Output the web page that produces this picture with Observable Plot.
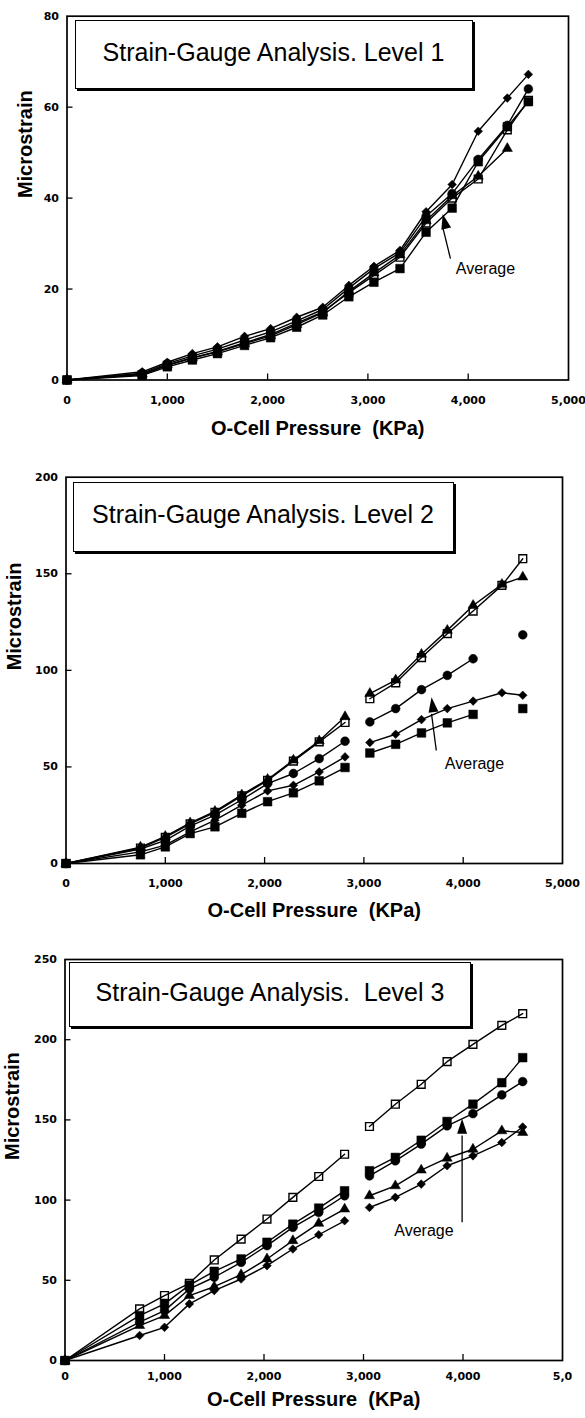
<!DOCTYPE html>
<html><head><meta charset="utf-8">
<script src="https://cdn.jsdelivr.net/npm/d3@7"></script>
<script src="https://cdn.jsdelivr.net/npm/@observablehq/plot@0.6"></script>
<style>
body{margin:0;background:#fff;width:585px;height:1418px;overflow:hidden;font-family:"Liberation Sans",Arial,sans-serif}
.panel{position:relative;width:585px}
.panel svg{display:block}
.tbox{position:absolute;border:1.5px solid #000;box-shadow:2px 2px 0 #000;background:#fff;display:flex;align-items:center;justify-content:center;font-size:25px;white-space:pre;box-sizing:border-box;padding-bottom:4px;color:#000}
</style></head><body><div id="c"></div>
<script>
// ---------- data ----------
const pressureKPa = [0, 750, 1000, 1250, 1500, 1770, 2030, 2290, 2550, 2810, 3060, 3320, 3580, 3840, 4100, 4390, 4600];
const xTicks = [0, 1000, 2000, 3000, 4000, 5000];
const xTickLabels = ["0", "1,000", "2,000", "3,000", "4,000", "5,000"];
const xTickLabelsLevel3 = ["0", "1,000", "2,000", "3,000", "4,000", "5,0"];
const yTicksLevel1 = [0, 20, 40, 60, 80];
const yTicksLevel2 = [0, 50, 100, 150, 200];
const yTicksLevel3 = [0, 50, 100, 150, 200, 250];
const panelTitles = ["Strain-Gauge Analysis. Level 1", "Strain-Gauge Analysis. Level 2", "Strain-Gauge Analysis.  Level 3"];
const xTitle = "O-Cell Pressure\u00a0 (KPa)";
const yTitle = "Microstrain";
const annotationText = "Average";

// Level 1 (one continuous segment)
const level1Diamond    = [0, 1.8, 3.9, 5.8, 7.3, 9.6, 11.3, 13.8, 16.0, 20.8, 25.0, 28.5, 37.0, 43.0, 54.7, 62.0, 67.2];
const level1Circle     = [0, 1.5, 3.6, 5.3, 6.8, 8.8, 10.6, 13.0, 15.5, 20.2, 24.5, 28.0, 36.0, 41.0, 48.5, 56.0, 64.0];
const level1Square     = [0, 1.0, 2.9, 4.4, 5.8, 7.6, 9.3, 11.6, 14.3, 18.3, 21.5, 24.5, 32.5, 37.8, 48.0, 55.7, 61.2];
const level1OpenSquare = [0, 1.2, 3.2, 4.8, 6.3, 8.2, 10.0, 12.5, 15.0, 19.2, 23.0, 27.0, 34.5, 40.0, 44.2, 55.0, 61.5];
const level1Triangle   = [0, 1.3, 3.3, 4.9, 6.2, 8.0, 9.7, 12.2, 14.8, 19.5, 23.5, 27.5, 35.0, 40.5, 44.8, 50.9, null];
const level1Segment    = [1, 1, 1, 1, 1, 1, 1, 1, 1, 1, 1, 1, 1, 1, 1, 1, 1];

// Level 2 (line broken between 2810 and 3060)
const level2Triangle   = [0, 8.5, 14.0, 21.0, 27.0, 35.5, 43.5, 53.5, 63.5, 76.0, 88.0, 95.0, 108.3, 120.7, 133.6, 144.5, 148.3];
const level2OpenSquare = [0, 8.0, 13.5, 20.5, 26.5, 35.0, 43.0, 53.0, 63.0, 73.0, 85.3, 93.5, 106.6, 119.0, 130.7, 144.0, 157.8];
const level2Circle     = [0, 7.5, 12.0, 19.3, 25.0, 33.0, 41.4, 46.6, 54.3, 63.3, 73.3, 80.2, 90.0, 97.4, 106.0, null, 118.4];
const level2Diamond    = [0, 6.0, 9.5, 16.4, 22.4, 30.2, 37.6, 40.5, 47.4, 55.2, 62.6, 66.9, 74.5, 80.2, 84.1, 88.4, 87.1];
const level2Square     = [0, 4.5, 8.6, 15.5, 19.0, 26.0, 32.0, 36.6, 42.8, 49.7, 57.2, 61.7, 67.6, 72.8, 77.2, null, 80.2];
const level2Segment    = [1, 1, 1, 1, 1, 1, 1, 1, 1, 1, 2, 2, 2, 2, 2, 2, 2];

// Level 3 (line broken between 2810 and 3060)
const level3OpenSquare = [0, 32.2, 40.5, 48.1, 62.7, 75.7, 88.2, 101.7, 114.7, 128.6, 145.9, 159.8, 172.2, 186.3, 197.1, 208.9, 216.2];
const level3Square     = [0, 28.0, 35.3, 47.0, 55.6, 63.3, 73.7, 85.0, 95.0, 105.8, 118.3, 126.6, 137.3, 149.0, 159.8, 173.2, 188.8];
const level3Circle     = [0, 23.9, 31.1, 44.6, 51.9, 61.2, 71.6, 83.0, 92.3, 102.7, 115.1, 124.5, 134.9, 146.3, 153.9, 165.6, 173.9];
const level3Triangle   = [0, 21.8, 28.0, 40.5, 46.0, 53.5, 63.3, 74.7, 85.5, 94.4, 102.7, 108.9, 118.7, 126.1, 131.7, 143.2, 142.1];
const level3Diamond    = [0, 15.6, 20.7, 35.3, 43.6, 50.8, 59.1, 69.5, 78.4, 87.1, 95.4, 101.7, 110.0, 121.4, 127.6, 135.9, 145.6];
const level3Segment    = [1, 1, 1, 1, 1, 1, 1, 1, 1, 1, 2, 2, 2, 2, 2, 2, 2];

// ---------- styles ----------
const arrowHead = {draw(ctx) { ctx.moveTo(0, 0); ctx.lineTo(5, 15); ctx.lineTo(-5, 15); ctx.closePath(); }};
const markerStyle = {
  diamond:    {symbol: "diamond2", r: 3.9, fill: "black", stroke: "black", strokeWidth: 0.5},
  circle:     {symbol: "circle",   r: 4.4, fill: "black", stroke: "black", strokeWidth: 0.5},
  square:     {symbol: "square",   r: 4.9, fill: "black", stroke: "black", strokeWidth: 0.5},
  openSquare: {symbol: "square",   r: 4.4, fill: "none",  stroke: "black", strokeWidth: 1.4},
  triangle:   {symbol: "triangle", r: 3.8, fill: "black", stroke: "black", strokeWidth: 0.5}
};
const tickFont = "'DejaVu Sans', sans-serif";

const panels = [
  {
    title: panelTitles[0], yDomain: [0, 80], yTicks: yTicksLevel1, xLabels: xTickLabels, segment: level1Segment,
    series: [["diamond", level1Diamond], ["circle", level1Circle], ["square", level1Square], ["openSquare", level1OpenSquare], ["triangle", level1Triangle]],
    arrow: {x1: 3823, y1: 26.7, x2: 3746, y2: 33.6, tip: 36.5, rotate: -13.6, tx: 4172, ty: 24.5},
    height: 450, mt: 15.7, mb: 70.5, ml: 66.5, mr: 17, xPad: 16, xTitleDy: 48.8, yTitleDx: -41,
    box: {left: 74.5, top: 19.5, width: 398, height: 69}
  },
  {
    title: panelTitles[1], yDomain: [0, 200], yTicks: yTicksLevel2, xLabels: xTickLabels, segment: level2Segment,
    series: [["triangle", level2Triangle], ["openSquare", level2OpenSquare], ["circle", level2Circle], ["diamond", level2Diamond], ["square", level2Square]],
    arrow: {x1: 3729, y1: 58.5, x2: 3681, y2: 77.5, tip: 86.1, rotate: -7.5, tx: 4114, ty: 51.6},
    height: 485, mt: 26.7, mb: 72, ml: 65.5, mr: 23, xPad: 16, xTitleDy: 47, yTitleDx: -51,
    box: {left: 72.5, top: 31.5, width: 381, height: 70}
  },
  {
    title: panelTitles[2], yDomain: [0, 250], yTicks: yTicksLevel3, xLabels: xTickLabelsLevel3, segment: level3Segment,
    series: [["openSquare", level3OpenSquare], ["square", level3Square], ["circle", level3Circle], ["triangle", level3Triangle], ["diamond", level3Diamond]],
    arrow: {x1: 3991, y1: 86.2, x2: 3991, y2: 140.3, tip: 150.7, rotate: 0, tx: 3608, ty: 81},
    height: 483, mt: 24, mb: 58, ml: 64.5, mr: 23, xPad: 12, xTitleDy: 39, yTitleDx: -52.5,
    box: {left: 69, top: 26.5, width: 402, height: 65}
  }
];

const container = document.getElementById("c");
for (const cfg of panels) {
  const innerH = cfg.height - cfg.mt - cfg.mb;
  const innerW = 585 - cfg.ml - cfg.mr;
  const rows = [];
  for (const [name, values] of cfg.series) {
    values.forEach((v, i) => rows.push({name, p: pressureKPa[i], v, seg: cfg.segment[i]}));
  }
  const dots = cfg.series.map(([name]) => {
    const s = markerStyle[name];
    return Plot.dot(rows.filter(d => d.name === name && d.v != null), {
      x: "p", y: "v", symbol: s.symbol, r: s.r, fill: s.fill, stroke: s.stroke, strokeWidth: s.strokeWidth
    });
  });
  const a = cfg.arrow;
  const chart = Plot.plot({
    width: 585, height: cfg.height,
    marginTop: cfg.mt, marginBottom: cfg.mb, marginLeft: cfg.ml, marginRight: cfg.mr,
    x: {domain: [0, 5000]},
    y: {domain: cfg.yDomain},
    style: {fontFamily: "'Liberation Sans', Arial, sans-serif", color: "black", background: "white", overflow: "visible"},
    marks: [
      Plot.line(rows, {x: "p", y: "v", z: d => d.name + "-" + d.seg, stroke: "black", strokeWidth: 1.4}),
      ...dots,
      Plot.ruleX(xTicks.slice(1, -1), {stroke: "black", strokeWidth: 1.3, insetTop: innerH - 6}),
      Plot.ruleY(cfg.yTicks.slice(1, -1), {stroke: "black", strokeWidth: 1.3, insetRight: innerW - 6}),
      Plot.frame({stroke: "black", strokeWidth: 1.7}),
      Plot.axisX(xTicks, {tickSize: 0, tickPadding: cfg.xPad, tickFormat: d => cfg.xLabels[xTicks.indexOf(d)], label: null, fontSize: 11, fontWeight: "bold", fontFamily: tickFont}),
      Plot.axisY(cfg.yTicks, {tickSize: 0, tickPadding: 8, label: null, fontSize: 11, fontWeight: "bold", fontFamily: tickFont}),
      Plot.text([xTitle], {text: d => d, frameAnchor: "bottom", dy: cfg.xTitleDy, fontSize: 20, fontWeight: "bold", lineAnchor: "middle"}),
      Plot.text([yTitle], {text: d => d, frameAnchor: "left", dx: cfg.yTitleDx, rotate: -90, fontSize: 20, fontWeight: "bold", lineAnchor: "middle"}),
      Plot.link([a], {x1: "x1", y1: "y1", x2: "x2", y2: "y2", stroke: "black", strokeWidth: 1.3}),
      Plot.dot([a], {x: "x2", y: "tip", symbol: arrowHead, r: 5, fill: "black", stroke: "none", rotate: a.rotate}),
      Plot.text([a], {x: "tx", y: "ty", text: () => annotationText, fontSize: 16, fontWeight: "normal"})
    ]
  });
  const div = document.createElement("div");
  div.className = "panel";
  div.style.height = cfg.height + "px";
  div.appendChild(chart);
  const box = document.createElement("div");
  box.className = "tbox";
  Object.assign(box.style, {left: cfg.box.left + "px", top: cfg.box.top + "px", width: cfg.box.width + "px", height: cfg.box.height + "px"});
  box.textContent = cfg.title;
  div.appendChild(box);
  container.appendChild(div);
}
</script></body></html>
